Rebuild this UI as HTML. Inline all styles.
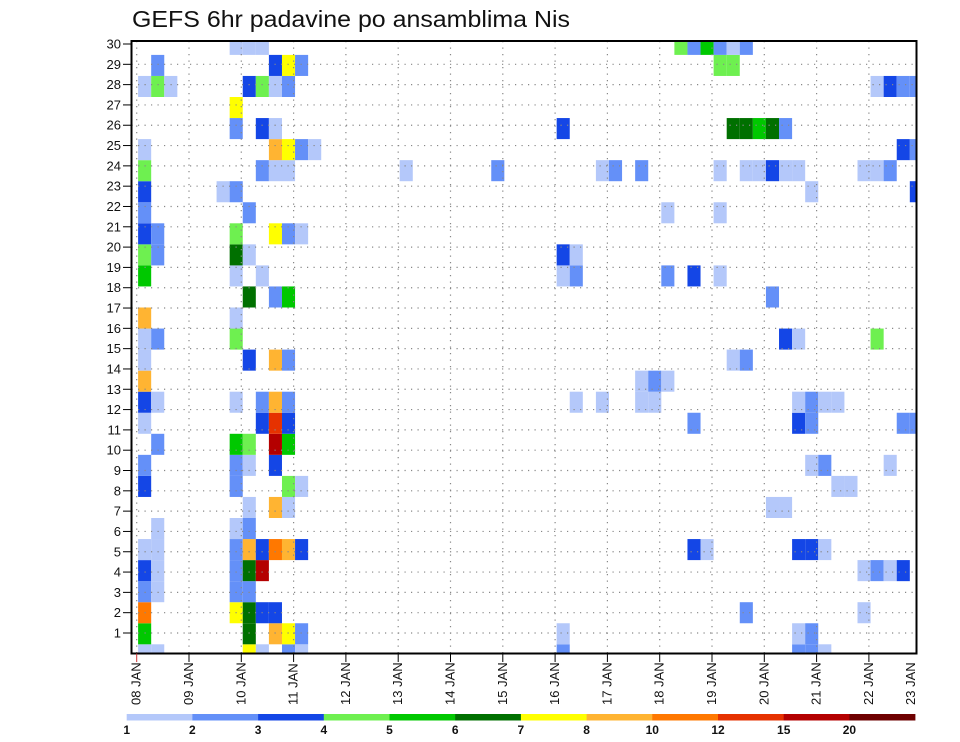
<!DOCTYPE html>
<html><head><meta charset="utf-8"><style>
html,body{margin:0;padding:0;background:#fff;}
svg{display:block;font-family:"Liberation Sans",sans-serif;}
</style></head><body>
<svg id="chart" width="960" height="742" viewBox="0 0 960 742">
<text x="132" y="27" font-size="23" textLength="438" lengthAdjust="spacingAndGlyphs" fill="#111">GEFS 6hr padavine po ansamblima Nis</text>
<g id="cells"></g>
<g id="grid"></g>
<rect x="131.5" y="41" width="785" height="612.5" fill="none" stroke="#000" stroke-width="2"/>
<g id="yaxis"></g>
<g id="xaxis"></g>
<g id="cbar"></g>
</svg>
<script>
// ---- data ----
const dayLabels = ["08 JAN","09 JAN","10 JAN","11 JAN","12 JAN","13 JAN","14 JAN","15 JAN","16 JAN","17 JAN","18 JAN","19 JAN","20 JAN","21 JAN","22 JAN","23 JAN"];
const memberTicks = [1,2,3,4,5,6,7,8,9,10,11,12,13,14,15,16,17,18,19,20,21,22,23,24,25,26,27,28,29,30];
const levelBounds = [1,2,3,4,5,6,7,8,10,12,15,20];
const levelColors = ["#b4c8fa","#6490f8","#1446e6","#6ef050","#00c800","#007000","#ffff00","#ffb432","#ff7800","#e63200","#b40000","#6e0000"];
// precipitation per row (bottom row 0 .. top row 29), "timeIndex:mm" (6-hourly steps from 08 JAN 00Z)
const precipRows = [
"0:1.5 1:1.5 8:7.5 9:1.5 11:2.5 12:1.5 32:2.5 50:2.5 51:2.5 52:1.5",
"0:5.5 8:6.5 10:9 11:7.5 12:2.5 32:1.5 50:1.5 51:2.5",
"0:11 7:7.5 8:6.5 9:3.5 10:3.5 46:2.5 55:1.5",
"0:2.5 1:1.5 7:2.5 8:2.5",
"0:3.5 1:1.5 7:2.5 8:6.5 9:17 55:1.5 56:2.5 57:1.5 58:3.5",
"0:1.5 1:1.5 7:2.5 8:9 9:3.5 10:11 11:9 12:3.5 42:3.5 43:1.5 50:3.5 51:3.5 52:1.5",
"1:1.5 7:1.5 8:2.5",
"8:1.5 10:9 11:1.5 48:1.5 49:1.5",
"0:3.5 7:2.5 11:4.5 12:1.5 53:1.5 54:1.5",
"0:2.5 7:2.5 8:1.5 10:3.5 51:1.5 52:2.5 57:1.5",
"1:2.5 7:5.5 8:4.5 10:17 11:5.5",
"0:1.5 9:3.5 10:13 11:3.5 42:2.5 50:3.5 51:2.5 58:2.5 59:2.5",
"0:3.5 1:1.5 7:1.5 9:2.5 10:9 11:2.5 33:1.5 35:1.5 38:1.5 39:1.5 50:1.5 51:2.5 52:1.5 53:1.5",
"0:9 38:1.5 39:2.5 40:1.5",
"0:1.5 8:3.5 10:9 11:2.5 45:1.5 46:2.5",
"0:1.5 1:2.5 7:4.5 49:3.5 50:1.5 56:4.5",
"0:9 7:1.5",
"8:6.5 10:2.5 11:5.5 48:2.5",
"0:5.5 7:1.5 9:1.5 32:1.5 33:2.5 40:2.5 42:3.5 44:1.5",
"0:4.5 1:2.5 7:6.5 8:1.5 32:3.5 33:1.5",
"0:3.5 1:2.5 7:4.5 10:7.5 11:2.5 12:1.5",
"0:2.5 8:2.5 40:1.5 44:1.5",
"0:3.5 6:1.5 7:2.5 51:1.5 59:3.5",
"0:4.5 9:2.5 10:1.5 11:1.5 20:1.5 27:2.5 35:1.5 36:2.5 38:2.5 44:1.5 46:1.5 47:1.5 48:3.5 49:1.5 50:1.5 55:1.5 56:1.5 57:2.5",
"0:1.5 10:9 11:7.5 12:2.5 13:1.5 58:3.5 59:2.5",
"7:2.5 9:3.5 10:1.5 32:3.5 45:6.5 46:6.5 47:5.5 48:6.5 49:2.5",
"7:7.5",
"0:1.5 1:4.5 2:1.5 8:3.5 9:4.5 10:1.5 11:2.5 56:1.5 57:3.5 58:2.5 59:2.5",
"1:2.5 10:3.5 11:7.5 12:2.5 44:4.5 45:4.5",
"7:1.5 8:1.5 9:1.5 41:4.5 42:2.5 43:5.5 44:2.5 45:1.5 46:2.5"
];
// ---- scales ----
const NS = "http://www.w3.org/2000/svg";
const PL = 131.5, PR = 916.5, PT = 41, PB = 653.5;
const X0 = 138.1, COLW = 13.08;           // cell scale
const TICK0 = 136.7, DAYW = 52.3;         // axis tick scale
const ROWB = 665.35, ROWH = 21.05;
function xCell(t){ return X0 + COLW*t; }
function yRowBottom(r){ return ROWB - ROWH*r; }
function yTick(m){ return 44 + (30-m)*20.31; }
function xDay(d){ return TICK0 + DAYW*d; }
function colorFor(v){ let i=-1; for(let k=0;k<levelBounds.length;k++){ if(v>=levelBounds[k]) i=k; } return i<0?null:levelColors[i]; }
function mk(tag, attrs, parent){ const e=document.createElementNS(NS,tag); for(const k in attrs) e.setAttribute(k, attrs[k]); parent.appendChild(e); return e; }

// ---- cells ----
const gc = document.getElementById('cells');
precipRows.forEach((s, r) => {
  if(!s) return;
  s.split(' ').forEach(p => {
    const [t, v] = p.split(':').map(Number);
    const col = colorFor(v); if(!col) return;
    let x1 = xCell(t), x2 = xCell(t+1);
    let y2 = yRowBottom(r), y1 = y2 - ROWH;
    x1 = Math.max(x1, PL); x2 = Math.min(x2, PR);
    y1 = Math.max(y1, PT); y2 = Math.min(y2, PB);
    if(x2<=x1 || y2<=y1) return;
    const el = mk('rect', {x:x1, y:y1, width:x2-x1, height:y2-y1, fill:col}, gc);
    
    
  });
});

// ---- grid ----
const gg = document.getElementById('grid');
memberTicks.forEach(m => {
  if(m===30) return;
  const el = mk('line', {x1:PL, x2:PR, y1:yTick(m), y2:yTick(m), stroke:'#888', 'stroke-width':1.2, 'stroke-dasharray':'1.2 5.3'}, gg);
  
  
});
dayLabels.forEach((d, i) => {
  const x = xDay(i); if(x>PR-1) return;
  const el = mk('line', {x1:x, x2:x, y1:PT, y2:PB, stroke:'#888', 'stroke-width':1.2, 'stroke-dasharray':'1.2 5.3'}, gg);
  
  
});

// ---- y axis ----
const gy = document.getElementById('yaxis');
memberTicks.forEach(m => {
  const y = yTick(m);
  const tk = mk('line', {x1:123, x2:PL, y1:y, y2:y, stroke:'#000', 'stroke-width':1}, gy);
  
  
  const tx = mk('text', {x:121, y:y+4.5, 'font-size':13, 'text-anchor':'end', fill:'#111'}, gy);
  tx.textContent = String(m);
  
  
});

// ---- x axis ----
const gx = document.getElementById('xaxis');
dayLabels.forEach((d, i) => {
  const x = xDay(i);
  if(x < PR){
    const tk = mk('line', {x1:x, x2:x, y1:PB, y2:662, stroke: i===0?'#c33':'#000', 'stroke-width':1}, gx);
    
    
  }
  const lx = Math.min(x, 911) + 4;
  const tx = mk('text', {x:0, y:0, 'font-size':13, fill:'#111', transform:'translate('+lx+',705) rotate(-90)'}, gx);
  tx.textContent = d;
  
  
});

// ---- colorbar ----
const gb = document.getElementById('cbar');
const CB0 = 126.7, CBW = 65.7;
levelColors.forEach((c, i) => {
  const el = mk('rect', {x:CB0+CBW*i, y:714, width:CBW+0.3, height:6.5, fill:c}, gb);
  
  
});
levelBounds.forEach((b, i) => {
  const tx = mk('text', {x:CB0+CBW*i, y:734, 'font-size':12, 'font-weight':'bold', 'text-anchor':'middle', fill:'#111'}, gb);
  tx.textContent = String(b);
  
  
});
</script>
</body></html>
